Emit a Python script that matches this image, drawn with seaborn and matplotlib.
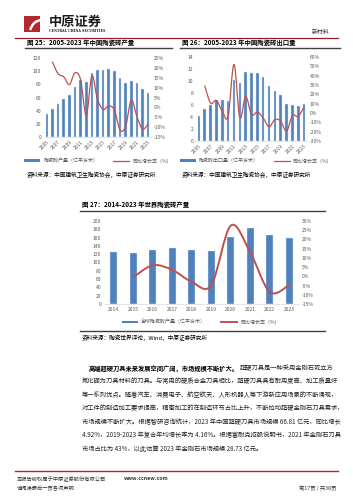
import numpy as np
import pandas as pd
import matplotlib
matplotlib.use('Agg')
import matplotlib.pyplot as plt
import seaborn as sns
from matplotlib.path import Path
from matplotlib.patches import PathPatch, Rectangle, Arc
from matplotlib.lines import Line2D

# 图25 中国陶瓷砖产量 (亿平方米) / 同比 (%)
years_a = [str(y) for y in range(2005, 2024)]
output_a = [35, 43, 50, 58, 64, 76, 87, 84, 97, 102, 102, 103, 101, 90, 82, 85, 82, 73, 67]
growth_a = [23, 17, 15.5, 11.5, 17.5, 14, -4, 16, 4, -1, 0.7, -1.3, -11.5, -9.5, 3.7, -4.7, -11, -8.4]

# 图26 中国陶瓷砖出口量
export_b = [4.2, 5.4, 6.0, 6.8, 6.9, 6.7, 10.1, 9.7, 11.5, 11.3, 11.4, 10.7, 9.1, 8.4, 7.7, 6.2, 6.0, 5.8, 6.2]
growth_b = [29, 10.6, 13.4, 1.8, -3.5, 52, -5, 17.7, -1.8, 1, -5.3, -14.8, -7, -8.8, -19.4, -2.8, -3.5, 6.4]

# 图27 世界陶瓷砖产量
years_c = [str(y) for y in range(2014, 2024)]
world_c = [125, 124, 130, 135, 131, 127, 161, 182, 167, 159]
growth_c = [-0.5, 6, 3.5, -3, -4.8, 27.5, 13, -8.5, -4.7]

BLUE = '#4F81BD'
RED = '#C0504D'
GREY = '#595959'
W, H = 353, 500

plt.rcParams['font.family'] = ['Noto Sans CJK SC', 'DejaVu Sans']
fig = plt.figure(figsize=(W / 100, H / 100), dpi=100)


def box(l, t, r, b):
    return [l / W, 1 - b / H, (r - l) / W, (b - t) / H]


def ftext(x, y, s, **kw):
    kw.setdefault('va', 'center')
    return fig.text(x / W, 1 - y / H, s, **kw)


def hline(x0, x1, y, color, lw):
    fig.add_artist(Line2D([x0 / W, x1 / W], [1 - y / H, 1 - y / H], color=color, lw=lw,
                          transform=fig.transFigure))


def smooth(ax, xs, ys, color, lw):
    # excel style smoothed line: cubic bezier through the points
    pts = np.column_stack([xs, ys]).astype(float)
    n = len(pts)
    verts, codes = [pts[0]], [Path.MOVETO]
    for i in range(n - 1):
        p0 = pts[max(i - 1, 0)]
        p1, p2 = pts[i], pts[i + 1]
        p3 = pts[min(i + 2, n - 1)]
        verts += [p1 + (p2 - p0) / 6, p2 - (p3 - p1) / 6, p2]
        codes += [Path.CURVE4] * 3
    ax.add_patch(PathPatch(Path(verts, codes), fill=False, edgecolor=color, lw=lw,
                           capstyle='round', joinstyle='round'))


def chart(rect, years, vals, growth, ylim, ystep, rlim, rstep, bar_w, lw, rot):
    ax = fig.add_axes(box(*rect))
    df = pd.DataFrame({'year': years, 'val': vals})
    sns.barplot(data=df, x='year', y='val', ax=ax, color=BLUE, saturation=1,
                width=bar_w, edgecolor='#DCE6F2', linewidth=0.3)
    n = len(years)
    ax.set_xlim(-0.5, n - 0.5)
    ax.set_ylim(*ylim)
    ax.set_yticks(np.arange(ylim[0], ylim[1] + 0.01, ystep))
    ax.set_xlabel('')
    ax.set_ylabel('')
    for s in ['left', 'right', 'top']:
        ax.spines[s].set_visible(False)
    ax.spines['bottom'].set_color('#D9D9D9')
    ax.spines['bottom'].set_linewidth(0.5)
    if rot:
        ax.set_xticks(range(0, n, 2))
        ax.set_xticklabels(years[::2], rotation=45, ha='right', rotation_mode='anchor')
    ax.tick_params(length=0, labelsize=3.6, colors=GREY, pad=2)
    ax2 = ax.twinx()
    ax2.set_ylim(*rlim)
    rt = np.arange(rlim[0], rlim[1] + 0.01, rstep)
    ax2.set_yticks(rt)
    ax2.set_yticklabels([f'{int(v)}%' for v in rt])
    ax2.tick_params(length=0, labelsize=3.6, colors=GREY, pad=2)
    for s in ax2.spines.values():
        s.set_visible(False)
    start = n - len(growth)
    smooth(ax2, np.arange(start, n), growth, RED, lw)
    return ax


def legend(cx, cy, lab1, lab2, lw):
    h = [Rectangle((0, 0), 1, 1, fc=BLUE, ec='none'), Line2D([], [], color=RED, lw=lw)]
    fig.legend(h, [lab1, lab2], ncol=2, loc='center', bbox_to_anchor=(cx / W, 1 - cy / H),
               frameon=False, fontsize=3.6, handlelength=3.2, handleheight=0.5,
               columnspacing=3, handletextpad=0.6, labelcolor=GREY)


# header
fig.add_artist(Rectangle((24 / W, 1 - 32 / H), 16 / W, 16 / H, fc='#B3282D', ec='none',
                         transform=fig.transFigure))
fig.add_artist(Arc((42 / W, 1 - 33 / H), 24 / W, 26 / H, theta1=95, theta2=170, color='white',
                   lw=1.8, transform=fig.transFigure))
ftext(49, 21.5, '中原证券', fontsize=9.5, fontweight='bold', color='#1A1A1A')
ftext(49, 30.5, 'CENTRAL CHINA SECURITIES', fontsize=2.3, fontweight='bold', family='DejaVu Serif',
      color='#1A1A1A')
ftext(330, 32, '新材料', fontsize=4.3, ha='right', color='#333333')
hline(15, 338, 38, '#8E1F22', 0.9)

# 图25
ftext(27, 43, '图 25：2005-2023 年中国陶瓷砖产量', fontsize=4.6, fontweight='bold')
hline(25, 172, 48, '#404040', 1.0)
chart((44, 58, 151, 137), years_a, output_a, growth_a, (0, 120), 20, (-15, 25), 5, 0.45, 0.9, True)
legend(98, 161, '陶瓷砖产量（亿平方米）', '同比增长率（%）', 0.9)
ftext(27, 175, '资料来源：中国建筑卫生陶瓷协会，中原证券研究所', fontsize=4.1)

# 图26
ftext(182, 43, '图 26：2005-2023 年中国陶瓷砖出口量', fontsize=4.6, fontweight='bold')
hline(180, 340, 48, '#404040', 1.0)
chart((196, 57, 307, 141), years_a, export_b, growth_b, (0, 14), 2, (-30, 60), 10, 0.45, 0.9, True)
legend(256, 161, '陶瓷砖出口量（亿平方米）', '同比增长率（%）', 0.9)
ftext(182, 175, '资料来源：中国建筑卫生陶瓷协会，中原证券研究所', fontsize=4.1)

# 图27
ftext(82, 205, '图 27：2014-2023 年世界陶瓷砖产量', fontsize=4.6, fontweight='bold')
hline(80, 325, 211, '#404040', 1.0)
chart((104, 221, 299, 304), years_c, world_c, growth_c, (0, 200), 20, (-15, 30), 5, 0.38, 1.4, False)
legend(201, 322, '全球陶瓷砖产量（亿平方米）', '同比增长率（%）', 1.4)
hline(80, 325, 331, '#404040', 1.0)
ftext(82, 338, '资料来源：陶瓷世界评论，Wind，中原证券研究所', fontsize=4.1)

# body text
body = [
    '氮化硼为刀具材料的刀具。与常用的硬质合金刀具相比，超硬刀具具有耐用度高、加工质量好',
    '等一系列优点。随着汽车、消费电子、航空航天、人形机器人等下游新应用场景的不断涌现，',
    '对工件的制造加工要求提高，精密加工的在制造环节占比上升，不断拉动超硬金刚石刀具需求，',
    '市场规模不断扩大。根据智研咨询统计，2023 年中国超硬刀具市场规模 66.81 亿元，同比增长',
    '4.92%，2019-2023 年复合年均增长率为 4.16%。根据富耐克招股说明书，2021 年金刚石刀具',
    '市场占比为 43%，以此估算 2023 年金刚石市场规模 28.73 亿元。',
]
fs = 4.5
t = ftext(89, 368, '高端超硬刀具未来发展空间广阔，市场规模不断扩大。', fontsize=fs, fontweight='bold')
fig.canvas.draw()
bb = t.get_window_extent(fig.canvas.get_renderer())
ftext(bb.x1 + 0.5, 368, '超硬刀具是一种采用金刚石或立方', fontsize=fs, color='#222222')
for i, line in enumerate(body):
    ftext(82, 381.5 + 13.5 * i, line, fontsize=fs, color='#222222')

# footer
hline(15, 338, 471, '#B3282D', 1.0)
ftext(17, 479, '本报告版权属于中原证券股份有限公司', fontsize=3.8, color='#333333')
ftext(124, 479, 'www.ccnew.com', fontsize=3.8, fontweight='bold', color='#333333')
ftext(17, 488, '请阅读最后一页各项声明', fontsize=3.8, color='#333333')
ftext(336, 488, '第17页 / 共38页', fontsize=3.8, ha='right', color='#333333')

fig.savefig('out.png', dpi=100)
